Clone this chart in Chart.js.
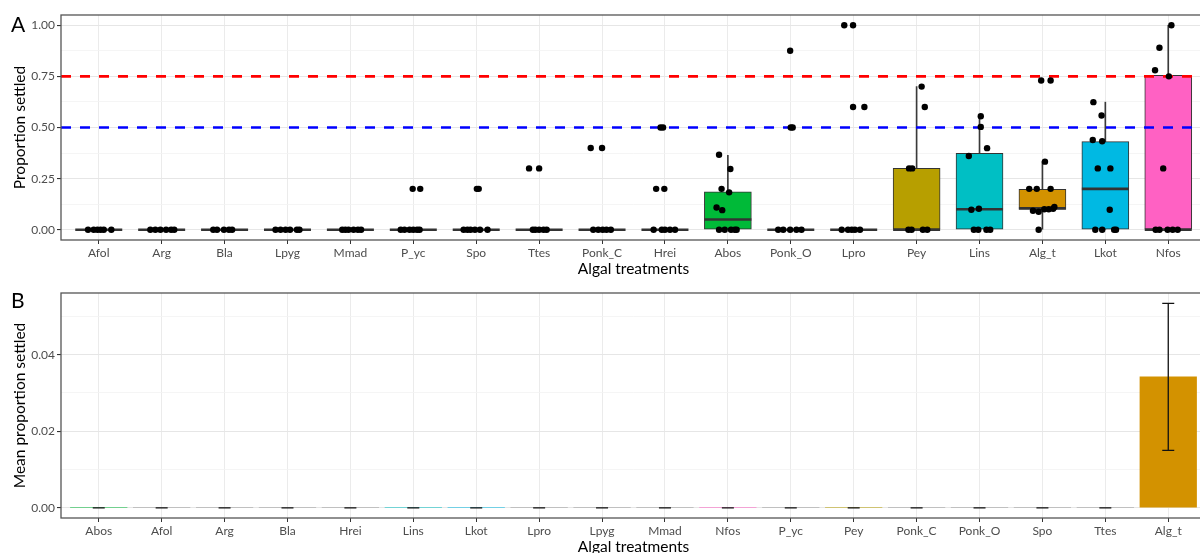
<!DOCTYPE html>
<html>
<head>
<meta charset="utf-8">
<script src="https://cdn.jsdelivr.net/npm/chart.js@4.4.0/dist/chart.umd.min.js"></script>
<style>
  html, body { margin: 0; padding: 0; background: #fff; overflow: hidden; width: 1200px; height: 553px; }
  .panel { position: absolute; left: 0; }
  #panelA { top: 0; }
  #panelB { top: 280px; }
</style>
</head>
<body>
<div class="panel" id="panelA"><canvas id="chartA" width="1210" height="280"></canvas></div>
<div class="panel" id="panelB"><canvas id="chartB" width="1210" height="290"></canvas></div>
<script>
// ---- Panel A: proportion settled per replicate ----
const treatmentsA = ['Afol','Arg','Bla','Lpyg','Mmad','P_yc','Spo','Ttes','Ponk_C','Hrei','Abos','Ponk_O','Lpro','Pey','Lins','Alg_t','Lkot','Nfos'];

const settled = [
  [0,0,0,0,0,0],                                         // Afol
  [0,0,0,0,0,0],                                         // Arg
  [0,0,0,0,0],                                           // Bla
  [0,0,0,0,0,0],                                         // Lpyg
  [0,0,0,0,0,0],                                         // Mmad
  [0.2,0.2,0,0,0,0,0,0],                                 // P_yc
  [0.2,0.2,0,0,0,0,0,0],                                 // Spo
  [0.3,0.3,0,0,0,0,0],                                   // Ttes
  [0.4,0.4,0,0,0,0,0],                                   // Ponk_C
  [0.5,0.5,0.2,0.2,0,0,0,0,0],                           // Hrei
  [0.367,0.297,0.2,0.183,0.109,0.096,0,0,0,0,0],         // Abos
  [0.875,0.5,0.5,0,0,0,0,0],                             // Ponk_O
  [1,1,0.6,0.6,0,0,0,0,0],                               // Lpro
  [0.7,0.6,0.3,0.3,0,0,0,0],                             // Pey
  [0.555,0.503,0.399,0.361,0.098,0.103,0,0,0,0],         // Lins
  [0.73,0.73,0.333,0.2,0.2,0.2,0.093,0.088,0.1,0.1,0.103,0.111,0], // Alg_t
  [0.624,0.559,0.439,0.433,0.3,0.3,0.098,0,0,0,0],       // Lkot
  [1,0.89,0.78,0.75,0.3,0,0,0,0,0]                       // Nfos
];

// horizontal jitter of each replicate, in category widths
const jitter = [
  [-0.17,-0.08,-0.02,0.03,0.08,0.20],
  [-0.18,-0.10,-0.02,0.07,0.15,0.20],
  [-0.18,-0.12,-0.01,0.07,0.12],
  [-0.19,-0.11,-0.03,0.04,0.15,0.19],
  [-0.13,-0.08,-0.03,0.05,0.12,0.17],
  [-0.01,0.11,-0.20,-0.14,-0.06,0.00,0.06,0.10],
  [0.01,0.04,-0.20,-0.14,-0.09,-0.02,0.06,0.18],
  [-0.16,0.00,-0.10,-0.06,0.00,0.07,0.12],
  [-0.18,0.00,-0.14,-0.06,0.01,0.07,0.14],
  [-0.07,-0.03,-0.14,-0.01,-0.18,-0.05,0.00,0.08,0.16],
  [-0.14,0.04,-0.10,0.02,-0.18,-0.09,-0.14,-0.05,0.05,0.11,0.14],
  [-0.01,0.00,0.03,-0.20,-0.12,-0.01,0.09,0.17],
  [-0.15,-0.01,-0.01,0.17,-0.19,-0.09,-0.03,0.02,0.10],
  [0.08,0.13,-0.12,-0.07,-0.13,-0.08,0.10,0.17],
  [0.02,0.02,0.12,-0.17,-0.13,-0.01,-0.09,-0.02,0.11,0.17],
  [-0.02,0.13,0.04,-0.21,-0.09,0.13,-0.15,-0.06,0.03,0.10,0.17,0.19,-0.06],
  [-0.19,-0.06,-0.20,-0.05,-0.12,0.08,0.07,-0.16,-0.05,0.14,0.17],
  [0.05,-0.14,-0.21,0.01,-0.08,-0.20,-0.14,-0.01,0.07,0.15]
];

// box summaries
const q1         = [0,0,0,0,0,0,0,0,0,0,0,0,0,0,0,0.1,0,0];
const medians    = [0,0,0,0,0,0,0,0,0,0,0.05,0,0,0,0.1,0.105,0.2,0];
const q3         = [0,0,0,0,0,0,0,0,0,0,0.186,0,0,0.3,0.374,0.198,0.431,0.755];
const whiskerLo  = [0,0,0,0,0,0,0,0,0,0,0,0,0,0,0,0,0,0];
const whiskerHi  = [0,0,0,0,0,0,0,0,0,0,0.364,0,0,0.7,0.556,0.333,0.624,1];

const thresholds = [0.75, 0.5];

// ---- Panel B: mean proportion settled ----
const treatmentsB = ['Abos','Afol','Arg','Bla','Hrei','Lins','Lkot','Lpro','Lpyg','Mmad','Nfos','P_yc','Pey','Ponk_C','Ponk_O','Spo','Ttes','Alg_t'];
const meanSettled = [0,0,0,0,0,0,0,0,0,0,0,0,0,0,0,0,0,0.0342];
const seSettled   = [0,0,0,0,0,0,0,0,0,0,0,0,0,0,0,0,0,0.0192];

const fillOf = { Abos: '#00BA38', Pey: '#B79F00', Lins: '#00BFC4', Alg_t: '#D39200', Lkot: '#00B9E3', Nfos: '#FF61C3' };
const fill = t => fillOf[t] || '#999999';

const tickFont = { family: 'Lato', size: 12 };
const titleFont = { family: 'Lato', size: 15.5 };

// frame around the panel + panel letter
const panelFrame = {
  id: 'panelFrame',
  afterDraw(chart, args, opts) {
    const { ctx, chartArea: a } = chart;
    ctx.save();
    ctx.strokeStyle = '#555';
    ctx.lineWidth = 1.3;
    ctx.strokeRect(a.left, a.top, a.right - a.left, a.bottom - a.top);
    ctx.fillStyle = '#000';
    ctx.font = '21px Lato';
    ctx.textBaseline = 'alphabetic';
    ctx.fillText(opts.tag, 11, opts.tagY);
    ctx.restore();
  }
};

// median bars drawn straight after the boxes
const boxMedians = {
  id: 'boxMedians',
  afterDatasetDraw(chart, args, opts) {
    if (args.index !== opts.datasetIndex) return;
    const { ctx } = chart;
    const y = chart.scales.y;
    ctx.save();
    ctx.strokeStyle = '#333';
    ctx.lineWidth = 2.6;
    args.meta.data.forEach((bar, i) => {
      const py = y.getPixelForValue(medians[i]);
      const half = bar.width / 2;
      ctx.beginPath();
      ctx.moveTo(bar.x - half, py);
      ctx.lineTo(bar.x + half, py);
      ctx.stroke();
    });
    ctx.restore();
  }
};

const errorBars = {
  id: 'errorBars',
  afterDatasetsDraw(chart) {
    const { ctx } = chart;
    const x = chart.scales.x, y = chart.scales.y;
    ctx.save();
    ctx.strokeStyle = '#111';
    ctx.lineWidth = 1.3;
    meanSettled.forEach((m, i) => {
      const px = x.getPixelForValue(i + 1);
      const lo = y.getPixelForValue(m - seSettled[i]);
      const hi = y.getPixelForValue(m + seSettled[i]);
      ctx.beginPath();
      ctx.moveTo(px, lo); ctx.lineTo(px, hi);
      ctx.moveTo(px - 6, lo); ctx.lineTo(px + 6, lo);
      ctx.moveTo(px - 6, hi); ctx.lineTo(px + 6, hi);
      ctx.stroke();
    });
    ctx.restore();
  }
};

function categoryAxis(labels, height, titlePad) {
  return {
    type: 'linear',
    min: 0.4,
    max: labels.length + 0.6,
    offset: false,
    afterBuildTicks: s => { s.ticks = labels.map((_, i) => ({ value: i + 1 })); },
    afterFit: s => { s.height = height; },
    ticks: { autoSkip: false, maxRotation: 0, padding: 2, color: '#4D4D4D', font: tickFont,
             callback: (v, i) => labels[i] },
    grid: { color: '#EBEBEB', lineWidth: 1, tickLength: 4, tickColor: '#333', offset: false },
    border: { display: false },
    title: { display: true, text: 'Algal treatments', color: '#000', font: titleFont,
             padding: { top: 0, bottom: titlePad } }
  };
}

function valueAxis(top, step, majorStep, min, max, title) {
  const values = [];
  for (let k = 0; k * step <= top + 1e-9; k++) values.push(Math.round(k * step * 1e6) / 1e6);
  const isMajor = v => Math.abs(v / majorStep - Math.round(v / majorStep)) < 1e-6;
  return {
    min, max,
    afterBuildTicks: s => { s.ticks = values.map(v => ({ value: v })); },
    afterFit: s => { s.width = 61; },
    ticks: { padding: 2, color: '#4D4D4D', font: tickFont,
             callback: v => isMajor(v) ? v.toFixed(2) : '' },
    grid: {
      tickLength: 4,
      color: c => isMajor(c.tick.value) ? '#E6E6E6' : '#F2F2F2',
      lineWidth: c => isMajor(c.tick.value) ? 1.1 : 0.8,
      tickColor: c => isMajor(c.tick.value) ? '#333' : 'rgba(0,0,0,0)'
    },
    border: { display: false },
    title: { display: true, text: title, color: '#000', font: titleFont, padding: { top: 11 } }
  };
}

const points = [];
settled.forEach((vals, i) => {
  vals.forEach((v, j) => points.push({ x: i + 1 + jitter[i][j], y: v }));
});

const span = [0.4, treatmentsA.length + 0.6];

new Chart(document.getElementById('chartA'), {
  type: 'bar',
  data: {
    datasets: [
      {
        type: 'scatter',
        data: points,
        pointRadius: 3.2,
        pointBackgroundColor: '#000',
        pointBorderColor: '#000',
        pointBorderWidth: 0
      },
      {
        type: 'line',
        data: span.map(x => ({ x, y: thresholds[0] })),
        borderColor: '#FF0000',
        borderWidth: 2.6,
        borderDash: [10, 9],
        pointRadius: 0
      },
      {
        type: 'line',
        data: span.map(x => ({ x, y: thresholds[1] })),
        borderColor: '#0000FF',
        borderWidth: 2.6,
        borderDash: [10, 9],
        pointRadius: 0
      },
      {
        data: treatmentsA.map((t, i) => ({ x: i + 1, y: [q1[i], q3[i]] })),
        backgroundColor: treatmentsA.map(fill),
        borderColor: '#333',
        borderWidth: 1,
        borderSkipped: false,
        barThickness: 47,
        grouped: false
      },
      {
        data: treatmentsA.map((t, i) => ({ x: i + 1, y: [whiskerLo[i], whiskerHi[i]] })),
        backgroundColor: '#3a3a3a',
        barThickness: 1,
        grouped: false
      }
    ]
  },
  options: {
    responsive: false,
    animation: false,
    devicePixelRatio: 1,
    layout: { padding: { top: 15, right: 4, bottom: 0, left: 0 } },
    plugins: {
      legend: { display: false },
      tooltip: { enabled: false },
      panelFrame: { tag: 'A', tagY: 32 },
      boxMedians: { datasetIndex: 3 }
    },
    scales: {
      x: categoryAxis(treatmentsA, 40, 2),
      y: valueAxis(1, 0.125, 0.25, -0.05, 1.05, 'Proportion settled')
    }
  },
  plugins: [panelFrame, boxMedians]
});

new Chart(document.getElementById('chartB'), {
  type: 'bar',
  data: {
    datasets: [{
      data: treatmentsB.map((t, i) => ({ x: i + 1, y: meanSettled[i] })),
      backgroundColor: treatmentsB.map(fill),
      barThickness: 56.6,
      grouped: false
    }]
  },
  options: {
    responsive: false,
    animation: false,
    devicePixelRatio: 1,
    layout: { padding: { top: 13, right: 4, bottom: 0, left: 0 } },
    plugins: {
      legend: { display: false },
      tooltip: { enabled: false },
      panelFrame: { tag: 'B', tagY: 28 }
    },
    scales: {
      x: categoryAxis(treatmentsB, 52, 14),
      y: valueAxis(0.05, 0.01, 0.02, -0.00267, 0.0561, 'Mean proportion settled')
    }
  },
  plugins: [panelFrame, errorBars]
});
</script>
</body>
</html>
